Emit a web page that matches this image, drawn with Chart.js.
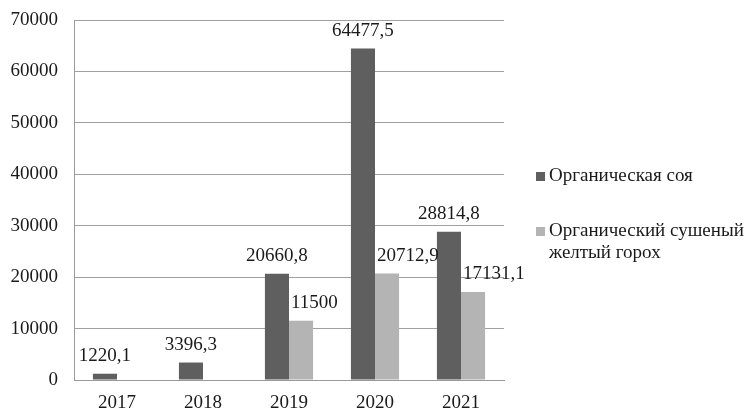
<!DOCTYPE html>
<html>
<head>
<meta charset="utf-8">
<script src="https://cdn.jsdelivr.net/npm/chart.js@4"></script>
<style>
    body { margin: 0; background: #fff; }
    #wrap { width: 750px; height: 410px; position: relative; }
</style>
</head>
<body>
<div id="wrap"><canvas id="chart"></canvas></div>
<script>
const years = ['2017', '2018', '2019', '2020', '2021'];
const soy = [1220.1, 3396.3, 20660.8, 64477.5, 28814.8];
const peas = [null, null, 11500, 20712.9, 17131.1];
const seriesNames = ['Органическая соя', ['Органический сушеный', 'желтый горох']];
const colors = ['#5f5f5f', '#b4b4b4'];

const fontFamily = "'Liberation Serif', 'Times New Roman', serif";
const fontSize = 19;

// подписи значений над столбцами
const valueLabels = {
    id: 'valueLabels',
    afterDatasetsDraw(chart) {
        const ctx = chart.ctx;
        ctx.save();
        ctx.font = `${fontSize}px ${fontFamily}`;
        ctx.fillStyle = '#1a1a1a';
        ctx.textBaseline = 'bottom';
        chart.data.datasets.forEach((ds, i) => {
            chart.getDatasetMeta(i).data.forEach((bar, j) => {
                const v = ds.data[j];
                if (v === null) return;
                const text = String(v).replace('.', ',');
                if (i === 0) {
                    ctx.textAlign = 'center';
                    ctx.fillText(text, bar.x, bar.y - 8);
                } else {
                    // светлые подписи сдвинуты вправо, чтобы не налезать на темный столбец
                    ctx.textAlign = 'left';
                    ctx.fillText(text, bar.x - bar.width / 2 + 2, bar.y - 8);
                }
            });
        });
        ctx.restore();
    }
};

// легенда справа, вторая подпись в две строки
const sideLegend = {
    id: 'sideLegend',
    afterDraw(chart) {
        const ctx = chart.ctx;
        const x = chart.chartArea.right + 32;
        const rows = [181, 236];
        ctx.save();
        ctx.font = `${fontSize}px ${fontFamily}`;
        ctx.textAlign = 'left';
        ctx.textBaseline = 'alphabetic';
        seriesNames.forEach((name, i) => {
            const lines = Array.isArray(name) ? name : [name];
            ctx.fillStyle = colors[i];
            ctx.fillRect(x, rows[i] - 9, 9, 9);
            ctx.fillStyle = '#1a1a1a';
            lines.forEach((line, k) => ctx.fillText(line, x + 13, rows[i] + k * 22));
        });
        ctx.restore();
    }
};

new Chart(document.getElementById('chart'), {
    type: 'bar',
    data: {
        labels: years,
        datasets: [
            { label: 'Органическая соя', data: soy, backgroundColor: colors[0] },
            { label: 'Органический сушеный желтый горох', data: peas, backgroundColor: colors[1] }
        ]
    },
    options: {
        responsive: true,
        maintainAspectRatio: false,
        animation: false,
        layout: { padding: { top: 20, right: 246, left: 0, bottom: 0 } },
        datasets: { bar: { categoryPercentage: 0.56, barPercentage: 1 } },
        scales: {
            x: {
                grid: { display: false },
                border: { color: '#999', width: 1 },
                ticks: { color: '#1a1a1a', font: { family: fontFamily, size: fontSize }, padding: 4 },
                afterFit: s => { s.height = 30; }
            },
            y: {
                min: 0,
                max: 70000,
                ticks: {
                    stepSize: 10000,
                    color: '#1a1a1a',
                    font: { family: fontFamily, size: fontSize },
                    padding: 4,
                    callback: v => String(v)
                },
                grid: { color: '#a0a0a0', tickLength: 12, tickColor: 'rgba(0,0,0,0)' },
                border: { color: '#999' },
                afterFit: s => { s.width = 74; }
            }
        },
        plugins: {
            legend: { display: false },
            tooltip: { enabled: false }
        }
    },
    plugins: [valueLabels, sideLegend]
});
</script>
</body>
</html>
